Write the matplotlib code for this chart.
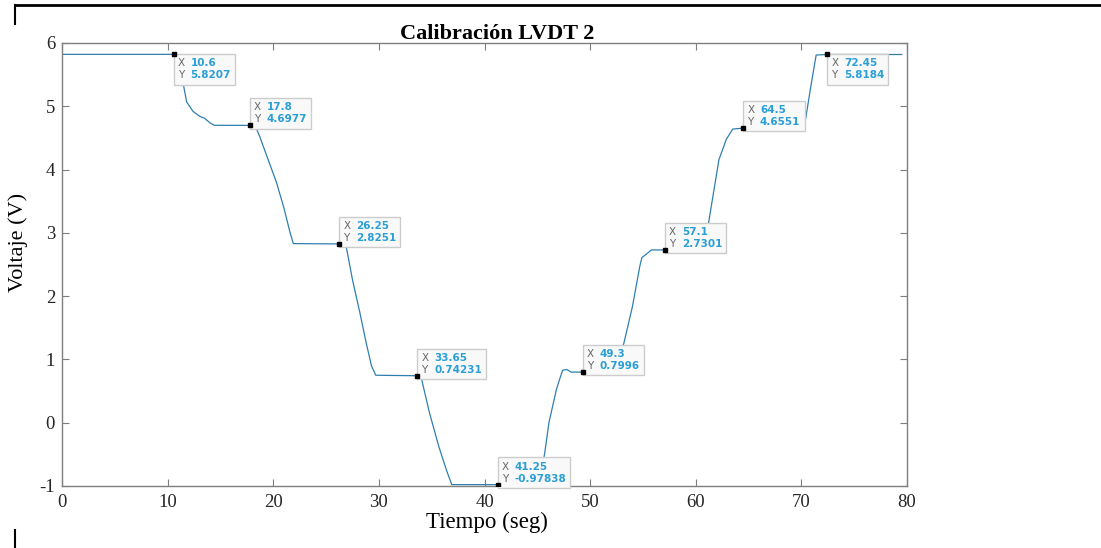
import matplotlib
matplotlib.use('Agg')
import matplotlib.pyplot as plt
from matplotlib.lines import Line2D
from matplotlib.offsetbox import TextArea, HPacker, AnnotationBbox

plt.rcParams['axes.unicode_minus'] = False

# curve (tiempo en seg, voltaje en V)
tiempo = [0, 10.6, 10.9, 11.2, 11.45, 11.8, 12.4, 13.05, 13.5, 14.0, 14.4, 17.8,
          18.3, 18.7, 19.4, 20.3, 21.0, 21.6, 21.9, 26.25, 26.6, 26.9, 27.5, 28.2,
          28.8, 29.3, 29.7, 33.65, 34.0, 34.8, 35.7, 36.4, 36.9, 41.25, 45.2, 45.7,
          46.1, 46.8, 47.1, 47.4, 47.8, 48.2, 49.3, 52.3, 53.2, 54.0, 54.7, 54.9,
          55.3, 55.8, 57.1, 60.8, 61.5, 62.2, 62.9, 63.5, 64.5, 70.1, 70.4, 70.9,
          71.4, 72.45, 79.5]
voltaje = [5.8207, 5.8207, 5.70, 5.52, 5.38, 5.07, 4.92, 4.84, 4.81, 4.74, 4.70, 4.6977,
           4.69, 4.53, 4.21, 3.80, 3.40, 3.00, 2.83, 2.8251, 2.82, 2.79, 2.26, 1.74,
           1.26, 0.90, 0.75, 0.74231, 0.72, 0.15, -0.39, -0.75, -0.978, -0.97838, -0.978, -0.48,
           0.0, 0.52, 0.68, 0.83, 0.84, 0.80, 0.7996, 0.80, 1.26, 1.83, 2.47, 2.61,
           2.66, 2.73, 2.7301, 2.73, 3.45, 4.16, 4.48, 4.64, 4.6551, 4.6551, 4.80, 5.32,
           5.81, 5.8184, 5.8184]

# data tips
tip_x = [10.6, 17.8, 26.25, 33.65, 41.25, 49.3, 57.1, 64.5, 72.45]
tip_y = [5.8207, 4.6977, 2.8251, 0.74231, -0.97838, 0.7996, 2.7301, 4.6551, 5.8184]
tip_xtxt = ['10.6', '17.8', '26.25', '33.65', '41.25', '49.3', '57.1', '64.5', '72.45']
tip_ytxt = ['5.8207', '4.6977', '2.8251', '0.74231', '-0.97838', '0.7996', '2.7301', '4.6551', '5.8184']
tip_below = [True, False, False, False, False, False, False, False, True]

xticks = [0, 10, 20, 30, 40, 50, 60, 70, 80]
yticks = [-1, 0, 1, 2, 3, 4, 5, 6]

serif = ['Liberation Serif', 'DejaVu Serif']
axcol = '#7f7f7f'

fig = plt.figure(figsize=(11.01, 5.48), dpi=100)
ax = fig.add_axes([62/1101, 1-486/548, 845/1101, 443/548])

ax.plot(tiempo, voltaje, color='#2f7fae', lw=0.9)
ax.plot(tip_x, tip_y, 's', color='black', ms=2.5, zorder=8)

for x, y, xs, ys, below in zip(tip_x, tip_y, tip_xtxt, tip_ytxt, tip_below):
    lbl = TextArea('X\nY', textprops=dict(fontsize=7.5, color='#666666', linespacing=1.25))
    val = TextArea(xs + '\n' + ys, textprops=dict(fontsize=7.5, color='#2a9fd6',
                                                  fontweight='bold', linespacing=1.25))
    box = HPacker(children=[lbl, val], sep=4, pad=0, align='top')
    ab = AnnotationBbox(box, (x, y), xybox=(4, -4 if below else 1), xycoords='data',
                        boxcoords='offset pixels', box_alignment=(0, 1 if below else 0),
                        pad=0.45, frameon=True, zorder=6,
                        bboxprops=dict(boxstyle='square', fc='#f9f9f9', ec='#cccccc', lw=1))
    ax.add_artist(ab)

ax.set_xlim(0, 80)
ax.set_ylim(-1, 6)
ax.set_xticks(xticks)
ax.set_yticks(yticks)
ax.tick_params(direction='in', top=True, right=True, length=5, width=0.8,
               color=axcol, labelsize=13.5)
ax.tick_params(axis='x', pad=6)
ax.tick_params(axis='y', pad=5)
for lab in ax.get_xticklabels() + ax.get_yticklabels():
    lab.set_fontfamily(serif)
    lab.set_color('#262626')
for s in ax.spines.values():
    s.set_color(axcol)
    s.set_linewidth(1.0)

ax.set_title('Calibración LVDT 2', family=serif, fontweight='bold', fontsize=16,
             x=0.515, pad=3)
ax.set_xlabel('Tiempo (seg)', family=serif, fontsize=16.5)
ax.set_ylabel('Voltaje (V)', family=serif, fontsize=16)
ax.xaxis.set_label_coords(0.503, -0.058)
ax.yaxis.set_label_coords(-0.040, 0.55)

# page frame bits around the figure
fig.add_artist(Line2D([15/1101, 1], [1-5/548, 1-5/548], color='black', lw=2))
fig.add_artist(Line2D([15/1101, 15/1101], [1-5/548, 1-24/548], color='black', lw=1.5))
fig.add_artist(Line2D([15/1101, 15/1101], [0, 1-530/548], color='black', lw=1.5))

fig.savefig('out.png', dpi=100)
